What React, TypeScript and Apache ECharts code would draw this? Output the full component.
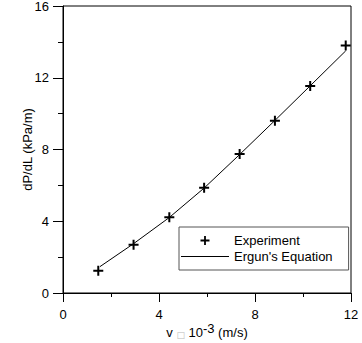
import React, { useEffect, useRef } from "react";
import * as echarts from "echarts";

const expV = [1.47, 2.94, 4.43, 5.88, 7.36, 8.83, 10.3, 11.78];
const expDP = [1.24, 2.69, 4.22, 5.87, 7.75, 9.6, 11.54, 13.8];
const ergunV = [1.54, 2.94, 4.42, 5.88, 7.36, 8.83, 10.3, 11.78];
const ergunDP = [1.47, 2.75, 4.2, 5.85, 7.72, 9.62, 11.55, 13.5];

const PLUS = "path://M4,0H6V4H10V6H6V10H4V6H0V4H4Z";
const LINEICON = "path://M0,0H48V1H0Z";
const FONT = "Liberation Sans, Arial, sans-serif";

export default function App() {
  const ref = useRef<HTMLDivElement>(null);
  useEffect(() => {
    if (!ref.current) return;
    const chart = echarts.init(ref.current, null, { renderer: "svg" });
    chart.setOption({
      animation: false,
      backgroundColor: "#fff",
      textStyle: { fontFamily: FONT },
      grid: {
        left: 63,
        right: 11,
        top: 6,
        bottom: 50,
        show: true,
        borderColor: "#000",
        borderWidth: 1,
        containLabel: false,
        outerBoundsMode: "none",
      },
      xAxis: {
        type: "value",
        min: 0,
        max: 12,
        interval: 4,
        axisLine: { show: true, lineStyle: { color: "#000", width: 1 } },
        axisTick: { show: true, inside: false, length: 9, lineStyle: { color: "#000" } },
        minorTick: { show: true, splitNumber: 2, length: 4, lineStyle: { color: "#000" } },
        splitLine: { show: false },
        axisLabel: { color: "#000", fontSize: 13, fontFamily: FONT, margin: 15 },
        name: "{t|v }{box|□}{t| 10}{sup|-3}{t| (m/s)}",
        nameLocation: "middle",
        nameGap: 31,
        nameMoveOverlap: false,
        nameTextStyle: {
          color: "#000",
          fontSize: 13,
          fontFamily: FONT,
          rich: {
            t: { color: "#000", fontSize: 13, lineHeight: 15, fontFamily: FONT, verticalAlign: "bottom" },
            box: { color: "#bbb", fontSize: 9, lineHeight: 11, fontFamily: "DejaVu Sans", verticalAlign: "bottom" },
            sup: { color: "#000", fontSize: 13, lineHeight: 15, fontFamily: FONT, verticalAlign: "bottom", padding: [0, 0, 4, 0] },
          },
        },
      },
      yAxis: {
        type: "value",
        min: 0,
        max: 16,
        interval: 4,
        axisLine: { show: true, lineStyle: { color: "#000", width: 1 } },
        axisTick: { show: true, inside: false, length: 10, lineStyle: { color: "#000" } },
        minorTick: { show: true, splitNumber: 2, length: 5, lineStyle: { color: "#000" } },
        splitLine: { show: false },
        axisLabel: { color: "#000", fontSize: 13, fontFamily: FONT, margin: 14 },
        name: "dP/dL (kPa/m)",
        nameLocation: "middle",
        nameGap: 29,
        nameMoveOverlap: false,
        nameTextStyle: { color: "#000", fontSize: 13, fontFamily: FONT },
      },
      legend: {
        orient: "vertical",
        left: 179,
        top: 227,
        itemWidth: 48,
        itemHeight: 9,
        itemGap: 3,
        padding: [7, 16, 7, 2],
        borderColor: "#555",
        borderWidth: 1,
        backgroundColor: "#fff",
        textStyle: { color: "#000", fontSize: 13, fontFamily: FONT },
        data: [{ name: "Experiment" }, { name: "Ergun's Equation", icon: LINEICON }],
      },
      series: [
        {
          name: "Ergun's Equation",
          type: "line",
          data: ergunV.map((v, i) => [v, ergunDP[i]]),
          showSymbol: false,
          symbol: "none",
          symbolKeepAspect: true,
          lineStyle: { color: "#000", width: 1 },
          itemStyle: { color: "#000" },
          z: 2,
        },
        {
          name: "Experiment",
          type: "scatter",
          data: expV.map((v, i) => [v, expDP[i]]),
          symbol: PLUS,
          symbolSize: 10,
          symbolKeepAspect: true,
          itemStyle: { color: "#000", opacity: 1 },
          z: 3,
        },
      ],
    });
    return () => chart.dispose();
  }, []);
  return <div ref={ref} style={{ width: 362, height: 343, position: "absolute", left: 0, top: 0 }} />;
}
